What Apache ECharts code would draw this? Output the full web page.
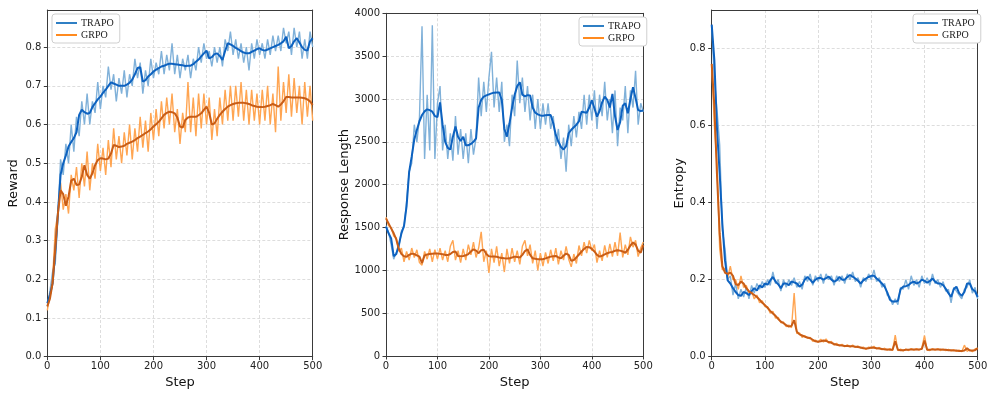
<!DOCTYPE html>
<html>
<head>
<meta charset="utf-8">
<script src="https://cdn.jsdelivr.net/npm/echarts@6/dist/echarts.min.js"></script>
<style>
  html, body { margin: 0; padding: 0; background: #fff; }
  #chart { width: 996px; height: 398px; }
</style>
</head>
<body>
<div id="chart"></div>
<script>
// one value every 5 steps, from step 0 to step 500
const STEP = 5;

// ---- Reward ----
const rewardTrapoRaw = [0.13,0.17,0.22,0.24,0.36,0.51,0.47,0.55,0.5,0.6,0.53,0.62,0.57,0.66,0.6,0.68,0.6,0.66,0.63,0.71,
  0.64,0.7,0.67,0.75,0.69,0.73,0.66,0.72,0.68,0.74,0.67,0.73,0.7,0.77,0.72,0.76,0.68,0.74,0.7,0.77,
  0.72,0.76,0.73,0.79,0.73,0.78,0.74,0.81,0.73,0.78,0.72,0.77,0.74,0.78,0.72,0.77,0.74,0.8,0.76,0.81,
  0.77,0.79,0.75,0.8,0.76,0.8,0.75,0.82,0.79,0.84,0.78,0.82,0.77,0.81,0.76,0.8,0.74,0.81,0.77,0.82,
  0.78,0.81,0.77,0.82,0.78,0.83,0.79,0.83,0.79,0.85,0.81,0.84,0.78,0.85,0.8,0.84,0.77,0.82,0.77,0.84,0.8];
const rewardTrapoSmooth = [0.138,0.16,0.19,0.27,0.37,0.47,0.5,0.52,0.543,0.555,0.565,0.58,0.625,0.638,0.632,0.628,0.63,0.645,0.655,0.665,
  0.672,0.682,0.69,0.7,0.709,0.706,0.703,0.7,0.7,0.7,0.703,0.708,0.716,0.73,0.746,0.748,0.711,0.715,0.724,0.73,
  0.737,0.742,0.746,0.75,0.752,0.755,0.757,0.757,0.756,0.755,0.754,0.753,0.751,0.752,0.752,0.756,0.762,0.768,0.776,0.784,
  0.791,0.771,0.774,0.782,0.784,0.777,0.767,0.79,0.81,0.807,0.803,0.798,0.794,0.79,0.786,0.784,0.784,0.788,0.791,0.795,
  0.797,0.793,0.791,0.794,0.797,0.8,0.803,0.806,0.81,0.815,0.827,0.797,0.803,0.815,0.823,0.812,0.8,0.793,0.791,0.815,0.823];
const rewardGrpoRaw = [0.12,0.16,0.2,0.33,0.37,0.45,0.38,0.42,0.37,0.47,0.43,0.49,0.41,0.5,0.44,0.53,0.43,0.5,0.46,0.55,
  0.48,0.54,0.47,0.56,0.49,0.59,0.51,0.57,0.5,0.58,0.52,0.6,0.51,0.59,0.53,0.62,0.54,0.61,0.53,0.63,
  0.56,0.64,0.57,0.66,0.59,0.67,0.6,0.68,0.58,0.64,0.55,0.63,0.58,0.71,0.58,0.67,0.57,0.68,0.59,0.68,
  0.6,0.67,0.56,0.64,0.57,0.67,0.6,0.69,0.61,0.7,0.61,0.7,0.62,0.71,0.61,0.69,0.6,0.69,0.61,0.68,
  0.6,0.69,0.61,0.7,0.6,0.68,0.58,0.75,0.61,0.71,0.63,0.73,0.62,0.72,0.63,0.7,0.6,0.71,0.62,0.7,0.61];
const rewardGrpoSmooth = [0.13,0.15,0.19,0.28,0.37,0.43,0.42,0.39,0.414,0.455,0.46,0.444,0.445,0.465,0.495,0.47,0.46,0.474,0.495,0.508,
  0.513,0.512,0.51,0.512,0.525,0.547,0.545,0.542,0.543,0.545,0.55,0.553,0.556,0.56,0.565,0.569,0.573,0.578,0.582,0.588,
  0.595,0.601,0.607,0.616,0.625,0.63,0.633,0.632,0.629,0.618,0.595,0.592,0.612,0.618,0.62,0.62,0.62,0.624,0.629,0.638,
  0.646,0.63,0.6,0.603,0.615,0.625,0.633,0.64,0.646,0.65,0.653,0.655,0.656,0.656,0.656,0.655,0.653,0.65,0.648,0.646,
  0.645,0.645,0.646,0.648,0.65,0.653,0.65,0.646,0.652,0.66,0.671,0.671,0.67,0.67,0.67,0.67,0.669,0.668,0.665,0.66,0.651];

// ---- Response Length ----
const lengthTrapoRaw = [1520,1440,1300,1130,1210,1260,1460,1500,1800,2150,2250,2700,2500,2780,3850,2300,3050,2400,3860,2300,
  2950,3150,2400,2700,2300,2600,2280,2800,2350,2650,2300,2600,2250,2650,2350,2550,3250,2800,3200,2850,
  3250,3550,2900,3250,2850,3200,2500,2700,2450,3050,2800,3450,2950,3250,2850,3150,2750,3050,2650,3000,
  2650,2950,2700,2950,2650,2800,2450,2650,2300,2550,2150,2700,2450,2800,2550,2850,2650,3050,2700,3050,
  2750,3100,2650,3050,2800,3200,2750,3000,2600,3100,2450,2900,2750,3150,2600,3100,2900,3330,2700,2950,2850];
const lengthTrapoSmooth = [1510,1432,1373,1165,1190,1300,1432,1520,1750,2150,2330,2530,2638,2740,2813,2855,2879,2870,2852,2800,
  2790,2960,2700,2500,2430,2410,2560,2680,2560,2510,2560,2460,2460,2475,2500,2540,2900,2990,3027,3042,
  3054,3065,3074,3076,3077,2988,2650,2560,2716,2900,3050,3150,3195,3050,3030,3045,3040,2900,2840,2820,
  2808,2805,2810,2812,2812,2716,2580,2500,2440,2410,2450,2600,2640,2670,2700,2740,2850,2845,2840,2900,
  2985,2891,2794,2860,2960,3027,2990,2900,3060,2800,2638,2730,2920,2950,2833,3000,3136,3010,2870,2860,2865];
const lengthGrpoRaw = [1620,1520,1500,1400,1380,1220,1260,1100,1220,1120,1260,1150,1240,1090,1060,1220,1130,1250,1100,1240,
  1130,1260,1120,1230,1100,1280,1350,1120,1230,1090,1250,1120,1300,1180,1330,1150,1260,1450,1100,1230,
  970,1250,1090,1280,1050,1200,980,1250,1080,1260,1100,1230,1070,1280,1350,1170,1300,1080,1230,1000,
  1200,1050,1210,1080,1240,1110,1260,1070,1230,1120,1280,1130,1040,1190,1080,1290,1170,1330,1200,1350,
  1230,1300,1090,1230,1110,1290,1150,1310,1160,1330,1170,1440,1150,1300,1180,1390,1270,1350,1160,1260,1330];
const lengthGrpoSmooth = [1606,1548,1490,1432,1360,1250,1190,1165,1158,1180,1195,1190,1175,1160,1085,1175,1185,1190,1193,1195,
  1195,1192,1188,1180,1178,1190,1215,1220,1168,1165,1168,1175,1190,1220,1245,1230,1200,1235,1240,1190,
  1165,1160,1160,1158,1150,1145,1140,1138,1140,1150,1160,1155,1150,1180,1225,1245,1180,1140,1135,1130,
  1128,1130,1140,1150,1160,1165,1168,1150,1140,1170,1195,1180,1110,1120,1150,1185,1220,1250,1272,1270,
  1250,1220,1180,1160,1170,1185,1200,1210,1215,1228,1235,1230,1220,1205,1240,1290,1325,1300,1230,1205,1295];

// ---- Entropy ----
const entropyTrapoRaw = [0.86,0.72,0.64,0.55,0.33,0.28,0.2,0.21,0.16,0.19,0.15,0.175,0.155,0.18,0.15,0.185,0.165,0.19,0.175,0.195,
  0.18,0.2,0.185,0.22,0.19,0.2,0.17,0.2,0.18,0.2,0.185,0.205,0.18,0.195,0.175,0.21,0.195,0.215,0.185,0.21,
  0.195,0.215,0.19,0.215,0.2,0.21,0.185,0.21,0.195,0.21,0.19,0.215,0.2,0.22,0.195,0.205,0.18,0.205,0.195,0.215,
  0.2,0.225,0.195,0.205,0.18,0.19,0.16,0.155,0.135,0.15,0.135,0.18,0.175,0.2,0.175,0.21,0.185,0.2,0.18,0.21,
  0.19,0.205,0.185,0.215,0.19,0.2,0.18,0.195,0.17,0.175,0.14,0.18,0.17,0.16,0.15,0.175,0.18,0.2,0.165,0.18,0.15];
const entropyTrapoSmooth = [0.862,0.77,0.59,0.475,0.345,0.25,0.198,0.19,0.178,0.168,0.16,0.158,0.168,0.165,0.16,0.17,0.178,0.172,0.185,0.18,
  0.19,0.187,0.198,0.207,0.195,0.188,0.178,0.19,0.19,0.186,0.195,0.193,0.19,0.182,0.187,0.2,0.207,0.2,0.192,0.2,
  0.204,0.204,0.2,0.204,0.208,0.2,0.195,0.198,0.207,0.2,0.2,0.207,0.212,0.208,0.203,0.197,0.19,0.198,0.203,0.207,
  0.21,0.21,0.203,0.197,0.19,0.182,0.167,0.148,0.143,0.143,0.145,0.175,0.182,0.183,0.186,0.192,0.195,0.19,0.193,0.2,
  0.197,0.192,0.196,0.203,0.195,0.19,0.19,0.186,0.176,0.165,0.155,0.175,0.182,0.165,0.158,0.168,0.19,0.19,0.175,0.17,0.155];
const entropyGrpoRaw = [0.76,0.6,0.5,0.28,0.225,0.23,0.205,0.235,0.2,0.2,0.175,0.21,0.18,0.185,0.165,0.17,0.15,0.16,0.14,0.145,
  0.13,0.13,0.113,0.118,0.1,0.102,0.088,0.09,0.078,0.082,0.075,0.165,0.06,0.062,0.05,0.055,0.048,0.05,0.04,0.043,
  0.038,0.045,0.038,0.046,0.035,0.04,0.03,0.035,0.028,0.032,0.026,0.031,0.025,0.03,0.024,0.028,0.022,0.025,0.019,0.025,
  0.022,0.027,0.02,0.024,0.018,0.022,0.017,0.021,0.016,0.056,0.016,0.02,0.015,0.02,0.016,0.021,0.017,0.021,0.017,0.022,
  0.055,0.017,0.016,0.021,0.017,0.021,0.016,0.02,0.016,0.019,0.015,0.018,0.014,0.017,0.013,0.03,0.014,0.018,0.013,0.02,0.022];
const entropyGrpoSmooth = [0.76,0.65,0.47,0.32,0.235,0.218,0.215,0.218,0.21,0.188,0.186,0.195,0.19,0.178,0.17,0.165,0.16,0.155,0.148,0.14,
  0.134,0.127,0.119,0.112,0.106,0.098,0.091,0.087,0.082,0.078,0.08,0.095,0.065,0.058,0.055,0.052,0.05,0.048,0.044,0.04,
  0.039,0.04,0.042,0.041,0.038,0.036,0.033,0.031,0.03,0.029,0.028,0.028,0.027,0.027,0.026,0.025,0.024,0.022,0.021,0.022,
  0.024,0.023,0.022,0.021,0.02,0.019,0.019,0.018,0.018,0.04,0.018,0.017,0.017,0.018,0.018,0.019,0.019,0.019,0.019,0.02,
  0.042,0.018,0.018,0.019,0.019,0.019,0.019,0.018,0.018,0.017,0.017,0.016,0.016,0.015,0.015,0.016,0.022,0.016,0.016,0.017,0.022];

const TRAPO_RAW = "#80b1d9";
const TRAPO_LINE = "#0d62c0";
const GRPO_RAW = "#ffa552";
const GRPO_LINE = "#c95d16";
const LEGEND_TRAPO = "#2f7fc4";
const LEGEND_GRPO = "#ff8a1f";
const SPINE = "#3a3a3a";

const pairs = (arr) => arr.map((v, i) => [i * STEP, v]);

const chart = echarts.init(document.getElementById("chart"), null, { renderer: "canvas" });

const grids = [
  { left: 47.3, top: 10, width: 265.4, height: 346.7 },
  { left: 386, top: 13.3, width: 257.3, height: 342.7 },
  { left: 711.7, top: 10, width: 266, height: 346.7 },
];

const tickFont = { fontFamily: "DejaVu Sans", fontSize: 10, color: "#222" };
const nameFont = { fontFamily: "DejaVu Sans", fontSize: 13, color: "#111" };
const splitLine = { show: true, lineStyle: { color: "#d4d4d4", type: [3, 2], width: 0.8 } };

const xAxes = [0, 1, 2].map((i) => ({
  type: "value",
  gridIndex: i,
  min: 0,
  max: 500,
  interval: 100,
  name: "Step",
  nameLocation: "middle",
  nameGap: 17,
  nameTextStyle: nameFont,
  axisLine: { show: true, lineStyle: { color: SPINE, width: 1 } },
  axisTick: { show: true, length: 3.5, lineStyle: { color: SPINE } },
  axisLabel: { ...tickFont, margin: 5 },
  splitLine,
}));

const yAxes = [
  { gridIndex: 0, max: 0.896, interval: 0.1, name: "Reward", nameGap: 27, fmt: (v) => v.toFixed(1) },
  { gridIndex: 1, max: 4000, interval: 500, name: "Response Length", nameGap: 34, fmt: (v) => String(v) },
  { gridIndex: 2, max: 0.9, interval: 0.2, name: "Entropy", nameGap: 26, fmt: (v) => v.toFixed(1) },
].map((a) => ({
  type: "value",
  gridIndex: a.gridIndex,
  min: 0,
  max: a.max,
  interval: a.interval,
  name: a.name,
  nameLocation: "middle",
  nameGap: a.nameGap,
  nameTextStyle: nameFont,
  axisLine: { show: true, lineStyle: { color: SPINE, width: 1 } },
  axisTick: { show: true, length: 3.5, lineStyle: { color: SPINE } },
  axisLabel: { ...tickFont, margin: 6, showMaxLabel: a.max === 4000, formatter: a.fmt },
  splitLine,
}));

// top and right spines: bare axes drawn over the dashed grid lines
[0, 1, 2].forEach((i) => {
  xAxes.push({
    type: "value", gridIndex: i, position: "top", min: 0, max: 500,
    axisLine: { show: true, onZero: false, lineStyle: { color: SPINE, width: 1 } },
    axisTick: { show: false }, axisLabel: { show: false }, splitLine: { show: false },
  });
  yAxes.push({
    type: "value", gridIndex: i, position: "right", min: 0, max: 1,
    axisLine: { show: true, onZero: false, lineStyle: { color: SPINE, width: 1 } },
    axisTick: { show: false }, axisLabel: { show: false }, splitLine: { show: false },
  });
});

const lineSeries = (name, data, idx, color, width) => ({
  name,
  type: "line",
  xAxisIndex: idx,
  yAxisIndex: idx,
  data: pairs(data),
  showSymbol: false,
  symbol: "none",
  silent: true,
  lineStyle: { color, width },
  itemStyle: { color },
});

const panels = [
  [rewardTrapoRaw, rewardGrpoRaw, rewardTrapoSmooth, rewardGrpoSmooth],
  [lengthTrapoRaw, lengthGrpoRaw, lengthTrapoSmooth, lengthGrpoSmooth],
  [entropyTrapoRaw, entropyGrpoRaw, entropyTrapoSmooth, entropyGrpoSmooth],
];

const series = [];
panels.forEach(([tRaw, gRaw, tSm, gSm], i) => {
  series.push(lineSeries("TRAPO raw", tRaw, i, TRAPO_RAW, 1.4));
  series.push(lineSeries("GRPO raw", gRaw, i, GRPO_RAW, 1.4));
  series.push(lineSeries("TRAPO", tSm, i, TRAPO_LINE, 2));
  series.push(lineSeries("GRPO", gSm, i, GRPO_LINE, 2));
});

const legendAt = (left, top) => ({
  left,
  top,
  orient: "vertical",
  selectedMode: false,
  icon: "rect",
  itemWidth: 21,
  itemHeight: 2,
  itemGap: 2,
  padding: [4, 6, 3, 4],
  backgroundColor: "#fff",
  borderColor: "#cfcfcf",
  borderWidth: 1,
  borderRadius: 3,
  textStyle: { fontFamily: "Liberation Serif", fontSize: 10, color: "#222", padding: [0, 0, 0, -1] },
  data: [
    { name: "TRAPO", itemStyle: { color: LEGEND_TRAPO } },
    { name: "GRPO", itemStyle: { color: LEGEND_GRPO } },
  ],
});

chart.setOption({
  animation: false,
  grid: grids,
  xAxis: xAxes,
  yAxis: yAxes,
  legend: [legendAt(52, 14), legendAt(579, 17), legendAt(913, 14)],
  series,
});
</script>
</body>
</html>
